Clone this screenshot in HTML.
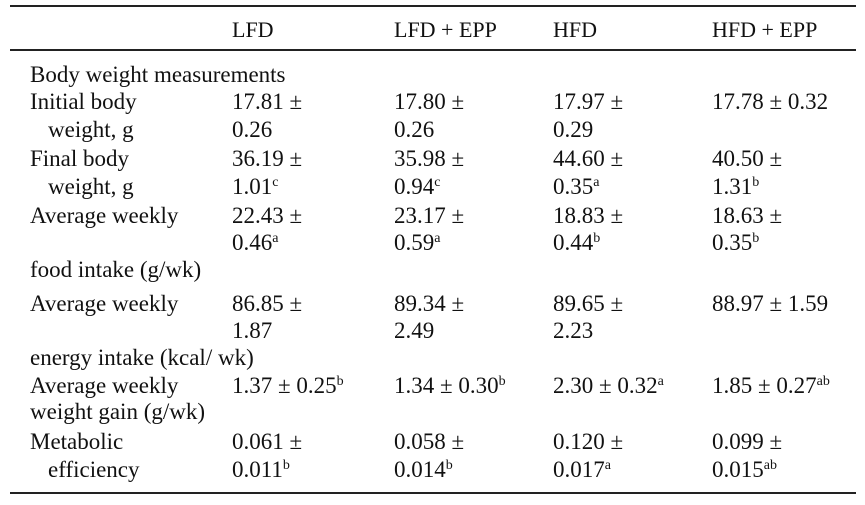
<html><head><style>
body{margin:0;width:865px;height:505px;background:#fff;position:relative;font-family:"Liberation Serif",serif;color:#111;overflow:hidden}
.t{position:absolute;font-size:23px;line-height:20px;white-space:nowrap}
.h{font-size:22px}
.l{position:absolute;left:10px;width:846px;height:2px;background:#222}
sup{font-size:14px;line-height:0;vertical-align:8px}
</style></head><body>
<div class="l" style="top:5px"></div>
<div class="l" style="top:49px"></div>
<div class="l" style="top:492px"></div>
<div class="t h" style="left:232px;top:20px">LFD</div>
<div class="t h" style="left:394px;top:20px">LFD + EPP</div>
<div class="t h" style="left:553px;top:20px">HFD</div>
<div class="t h" style="left:712px;top:20px">HFD + EPP</div>

<div class="t" style="left:30px;top:65px">Body weight measurements</div>

<div class="t" style="left:30px;top:92px">Initial body</div>
<div class="t" style="left:232px;top:92px">17.81 ±</div>
<div class="t" style="left:394px;top:92px">17.80 ±</div>
<div class="t" style="left:553px;top:92px">17.97 ±</div>
<div class="t" style="left:712px;top:92px">17.78 ± 0.32</div>
<div class="t" style="left:48px;top:120px">weight, g</div>
<div class="t" style="left:232px;top:120px">0.26</div>
<div class="t" style="left:394px;top:120px">0.26</div>
<div class="t" style="left:553px;top:120px">0.29</div>

<div class="t" style="left:30px;top:149px">Final body</div>
<div class="t" style="left:232px;top:149px">36.19 ±</div>
<div class="t" style="left:394px;top:149px">35.98 ±</div>
<div class="t" style="left:553px;top:149px">44.60 ±</div>
<div class="t" style="left:712px;top:149px">40.50 ±</div>
<div class="t" style="left:48px;top:177px">weight, g</div>
<div class="t" style="left:232px;top:177px">1.01<sup>c</sup></div>
<div class="t" style="left:394px;top:177px">0.94<sup>c</sup></div>
<div class="t" style="left:553px;top:177px">0.35<sup>a</sup></div>
<div class="t" style="left:712px;top:177px">1.31<sup>b</sup></div>

<div class="t" style="left:30px;top:206px">Average weekly</div>
<div class="t" style="left:232px;top:206px">22.43 ±</div>
<div class="t" style="left:394px;top:206px">23.17 ±</div>
<div class="t" style="left:553px;top:206px">18.83 ±</div>
<div class="t" style="left:712px;top:206px">18.63 ±</div>
<div class="t" style="left:232px;top:233px">0.46<sup>a</sup></div>
<div class="t" style="left:394px;top:233px">0.59<sup>a</sup></div>
<div class="t" style="left:553px;top:233px">0.44<sup>b</sup></div>
<div class="t" style="left:712px;top:233px">0.35<sup>b</sup></div>
<div class="t" style="left:30px;top:260px">food intake (g/wk)</div>

<div class="t" style="left:30px;top:294px">Average weekly</div>
<div class="t" style="left:232px;top:294px">86.85 ±</div>
<div class="t" style="left:394px;top:294px">89.34 ±</div>
<div class="t" style="left:553px;top:294px">89.65 ±</div>
<div class="t" style="left:712px;top:294px">88.97 ± 1.59</div>
<div class="t" style="left:232px;top:321px">1.87</div>
<div class="t" style="left:394px;top:321px">2.49</div>
<div class="t" style="left:553px;top:321px">2.23</div>
<div class="t" style="left:30px;top:348px">energy intake (kcal/ wk)</div>

<div class="t" style="left:30px;top:376px">Average weekly</div>
<div class="t" style="left:232px;top:376px">1.37 ± 0.25<sup>b</sup></div>
<div class="t" style="left:394px;top:376px">1.34 ± 0.30<sup>b</sup></div>
<div class="t" style="left:553px;top:376px">2.30 ± 0.32<sup>a</sup></div>
<div class="t" style="left:712px;top:376px">1.85 ± 0.27<sup>ab</sup></div>
<div class="t" style="left:30px;top:402px">weight gain (g/wk)</div>

<div class="t" style="left:30px;top:432px">Metabolic</div>
<div class="t" style="left:232px;top:432px">0.061 ±</div>
<div class="t" style="left:394px;top:432px">0.058 ±</div>
<div class="t" style="left:553px;top:432px">0.120 ±</div>
<div class="t" style="left:712px;top:432px">0.099 ±</div>
<div class="t" style="left:48px;top:460px">efficiency</div>
<div class="t" style="left:232px;top:460px">0.011<sup>b</sup></div>
<div class="t" style="left:394px;top:460px">0.014<sup>b</sup></div>
<div class="t" style="left:553px;top:460px">0.017<sup>a</sup></div>
<div class="t" style="left:712px;top:460px">0.015<sup>ab</sup></div>
</body></html>
